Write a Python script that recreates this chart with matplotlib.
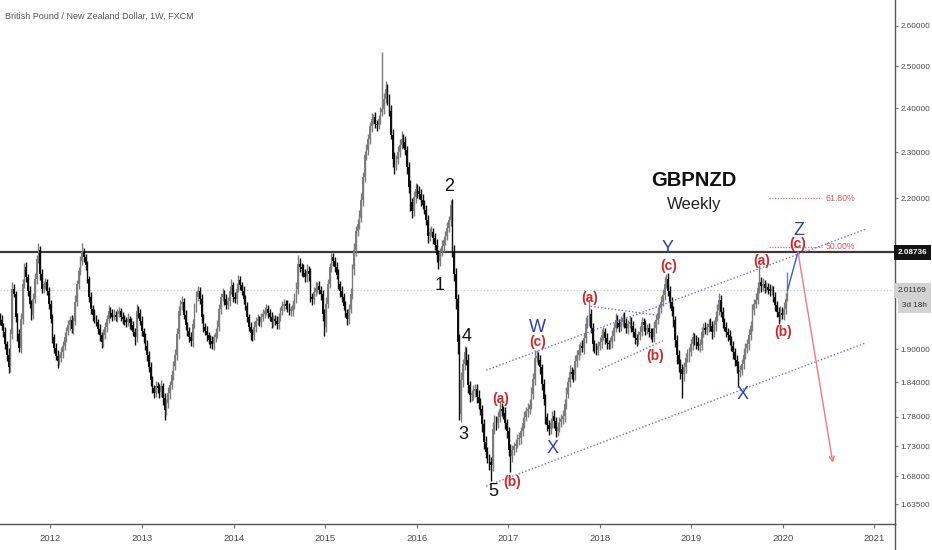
import numpy as np
import pandas as pd
import matplotlib
matplotlib.use('Agg')
import matplotlib.pyplot as plt
import matplotlib.dates as mdates
from matplotlib import font_manager
from matplotlib.lines import Line2D
from matplotlib.ticker import NullLocator, FormatStrFormatter
from matplotlib.transforms import blended_transform_factory

names = {f.name for f in font_manager.fontManager.ttflist}
if 'Liberation Sans Narrow' in names:
    NARROW = 'Liberation Sans Narrow'
elif 'Liberation Sans' in names:
    NARROW = 'Liberation Sans'
else:
    NARROW = 'DejaVu Sans'
plt.rcParams['font.family'] = [NARROW, 'DejaVu Sans']

# ---------------- data ----------------
title = 'British Pound / New Zealand Dollar, 1W, FXCM'
first_week = '2011-06-13'
first_open = 1.960
closes = [
    1.955, 1.943, 1.932, 1.909, 1.890, 1.867, 1.928, 2.015, 2.005, 1.961,
    1.928, 1.903, 1.957, 2.024, 2.057, 2.038, 2.011, 1.986, 1.965, 1.996,
    2.034, 2.073, 2.092, 2.044, 2.015, 2.024, 2.028, 2.011, 1.986, 1.957,
    1.922, 1.903, 1.888, 1.878, 1.885, 1.895, 1.907, 1.922, 1.934, 1.945,
    1.955, 1.938, 1.953, 1.990, 2.024, 2.050, 2.069, 2.088, 2.077, 2.061,
    2.034, 1.999, 1.976, 1.965, 1.957, 1.951, 1.938, 1.926, 1.913, 1.926,
    1.942, 1.957, 1.972, 1.969, 1.961, 1.965, 1.961, 1.967, 1.972, 1.961,
    1.957, 1.953, 1.951, 1.957, 1.949, 1.945, 1.932, 1.922, 1.972, 1.969,
    1.953, 1.934, 1.922, 1.907, 1.890, 1.867, 1.844, 1.830, 1.821, 1.833,
    1.830, 1.823, 1.833, 1.812, 1.791, 1.803, 1.821, 1.835, 1.853, 1.870,
    1.890, 1.928, 1.972, 1.986, 1.990, 1.965, 1.945, 1.934, 1.922, 1.915,
    1.947, 1.980, 1.999, 2.011, 1.995, 1.961, 1.942, 1.934, 1.926, 1.918,
    1.915, 1.909, 1.922, 1.930, 1.942, 1.976, 1.999, 2.005, 1.995, 1.984,
    1.991, 2.011, 2.022, 1.999, 1.995, 2.015, 2.032, 2.022, 2.011, 1.995,
    1.982, 1.961, 1.942, 1.930, 1.926, 1.942, 1.953, 1.957, 1.951, 1.961,
    1.967, 1.972, 1.976, 1.969, 1.961, 1.951, 1.957, 1.953, 1.947, 1.961,
    1.972, 1.982, 1.986, 1.982, 1.980, 1.972, 1.972, 1.984, 1.995, 2.015,
    2.063, 2.057, 2.053, 2.046, 2.038, 2.050, 2.044, 1.999, 1.995, 2.009,
    2.017, 2.020, 2.013, 2.005, 1.967, 1.942, 1.986, 2.024, 2.057, 2.077,
    2.069, 2.057, 2.042, 2.024, 2.011, 1.999, 1.982, 1.969, 1.957, 1.976,
    2.005, 2.053, 2.092, 2.130, 2.146, 2.158, 2.196, 2.245, 2.294, 2.305,
    2.329, 2.359, 2.376, 2.380, 2.364, 2.362, 2.376, 2.392, 2.399, 2.423,
    2.446, 2.423, 2.394, 2.340, 2.284, 2.273, 2.284, 2.301, 2.317, 2.329,
    2.322, 2.305, 2.267, 2.224, 2.191, 2.172, 2.202, 2.220, 2.215, 2.209,
    2.196, 2.186, 2.175, 2.154, 2.120, 2.129, 2.129, 2.116, 2.102, 2.082,
    2.069, 2.088, 2.100, 2.112, 2.120, 2.137, 2.154, 2.186, 2.088, 2.044,
    1.995, 1.913, 1.784, 1.844, 1.873, 1.895, 1.881, 1.835, 1.818, 1.818,
    1.825, 1.829, 1.815, 1.803, 1.793, 1.767, 1.737, 1.720, 1.710, 1.703,
    1.698, 1.759, 1.773, 1.769, 1.780, 1.794, 1.790, 1.787, 1.769, 1.755,
    1.723, 1.713, 1.723, 1.730, 1.734, 1.741, 1.744, 1.755, 1.769, 1.780,
    1.789, 1.794, 1.801, 1.820, 1.846, 1.885, 1.888, 1.881, 1.867, 1.837,
    1.811, 1.779, 1.765, 1.758, 1.769, 1.781, 1.772, 1.755, 1.762, 1.771,
    1.776, 1.781, 1.802, 1.820, 1.841, 1.859, 1.855, 1.853, 1.878, 1.890,
    1.899, 1.906, 1.903, 1.921, 1.947, 1.953, 1.967, 1.939, 1.909, 1.903,
    1.899, 1.906, 1.913, 1.926, 1.932, 1.921, 1.911, 1.909, 1.913, 1.924,
    1.940, 1.955, 1.949, 1.941, 1.951, 1.959, 1.949, 1.940, 1.947, 1.951,
    1.943, 1.932, 1.921, 1.917, 1.926, 1.932, 1.951, 1.945, 1.936, 1.940,
    1.932, 1.930, 1.922, 1.940, 1.955, 1.968, 1.978, 1.990, 2.003, 2.024,
    2.034, 2.011, 1.990, 1.972, 1.955, 1.917, 1.890, 1.873, 1.864, 1.855,
    1.867, 1.885, 1.888, 1.895, 1.909, 1.922, 1.917, 1.913, 1.906, 1.908,
    1.932, 1.940, 1.936, 1.942, 1.947, 1.943, 1.932, 1.945, 1.961, 1.974,
    1.993, 1.970, 1.951, 1.942, 1.932, 1.926, 1.917, 1.907, 1.895, 1.881,
    1.869, 1.859, 1.862, 1.874, 1.890, 1.903, 1.909, 1.926, 1.943, 1.974,
    1.986, 1.993, 2.017, 2.028, 2.020, 2.024, 2.017, 2.019, 2.013, 2.011,
    2.013, 1.999, 1.984, 1.970, 1.961, 1.969, 1.965, 1.975, 1.995, 2.012,
]
upper_wick_milli = [
    8, 10, 6, 9, 7, 12, 10, 14, 9, 6,
    7, 9, 12, 10, 8, 11, 6, 9, 7, 10,
    12, 9, 14, 8, 10, 7, 9, 6, 8, 7,
    9, 6, 8, 10, 7, 9, 8, 11, 7, 9,
    8, 10, 7, 12, 9, 8, 10, 18, 9, 7,
    8, 6, 9, 7, 10, 8, 6, 9, 7, 11,
    9, 7, 12, 8, 6, 10, 7, 9, 8, 6,
    10, 7, 8, 12, 6, 9, 7, 8, 14, 9,
    7, 9, 6, 8, 10, 7, 9, 8, 6, 10,
    8, 7, 12, 6, 9, 8, 10, 7, 9, 8,
    10, 12, 9, 8, 11, 7, 9, 6, 8, 10,
    9, 8, 12, 10, 7, 9, 6, 8, 10, 7,
    8, 9, 7, 10, 12, 9, 8, 11, 7, 9,
    8, 10, 12, 7, 9, 11, 10, 8, 7, 9,
    7, 8, 6, 9, 8, 10, 7, 9, 6, 8,
    9, 7, 10, 8, 6, 9, 7, 8, 10, 7,
    8, 10, 9, 7, 12, 8, 9, 10, 11, 14,
    20, 12, 9, 10, 8, 14, 9, 12, 8, 10,
    12, 9, 10, 8, 7, 9, 12, 11, 8, 10,
    9, 8, 10, 12, 7, 9, 8, 10, 7, 9,
    12, 10, 14, 12, 10, 16, 14, 12, 10, 14,
    12, 10, 14, 8, 12, 10, 9, 11, 135, 14,
    19, 12, 10, 14, 12, 16, 10, 14, 12, 20,
    12, 14, 10, 12, 16, 10, 14, 12, 10, 12,
    10, 12, 9, 11, 10, 8, 12, 9, 10, 12,
    10, 8, 12, 9, 10, 12, 9, 10, 12, 14,
    12, 10, 16, 14, 10, 12, 9, 10, 8, 9,
    10, 8, 9, 11, 10, 8, 9, 10, 8, 7,
    9, 12, 10, 8, 9, 14, 10, 8, 9, 7,
    8, 10, 9, 7, 8, 10, 9, 8, 10, 9,
    8, 9, 10, 12, 11, 14, 10, 8, 9, 7,
    9, 8, 7, 10, 8, 9, 10, 7, 9, 8,
    9, 10, 8, 11, 9, 12, 8, 10, 12, 9,
    10, 8, 12, 9, 14, 12, 27, 8, 10, 9,
    8, 10, 9, 12, 10, 8, 9, 7, 10, 12,
    10, 14, 9, 8, 12, 10, 11, 9, 8, 12,
    9, 10, 8, 7, 9, 12, 10, 8, 9, 7,
    9, 8, 10, 12, 9, 11, 8, 10, 12, 14,
    10, 12, 9, 8, 10, 7, 9, 8, 10, 9,
    10, 8, 12, 9, 11, 10, 8, 9, 10, 12,
    10, 9, 11, 8, 10, 12, 9, 10, 11, 12,
    14, 9, 10, 8, 9, 7, 10, 8, 9, 7,
    8, 9, 10, 8, 12, 9, 10, 11, 9, 12,
    10, 14, 12, 33, 10, 12, 9, 10, 8, 11,
    9, 8, 10, 7, 9, 12, 10, 14, 12, 35,
]
lower_wick_milli = [
    9, 7, 10, 8, 12, 10, 8, 9, 7, 10,
    12, 8, 9, 10, 7, 9, 11, 8, 10, 9,
    8, 10, 7, 12, 9, 8, 10, 9, 11, 8,
    10, 9, 8, 12, 7, 9, 10, 8, 9, 7,
    9, 8, 10, 7, 9, 10, 8, 7, 9, 10,
    8, 10, 9, 12, 8, 7, 9, 10, 11, 8,
    7, 9, 8, 10, 9, 7, 8, 10, 7, 9,
    10, 8, 9, 7, 11, 9, 8, 14, 9, 10,
    8, 9, 10, 8, 12, 9, 10, 8, 9, 7,
    9, 10, 8, 11, 17, 9, 8, 10, 7, 9,
    8, 10, 9, 7, 12, 8, 9, 10, 8, 9,
    10, 8, 9, 7, 10, 12, 9, 8, 10, 9,
    12, 9, 10, 8, 9, 7, 10, 8, 11, 9,
    8, 9, 7, 10, 8, 9, 7, 10, 8, 9,
    9, 10, 8, 12, 10, 8, 9, 7, 8, 10,
    8, 9, 7, 10, 8, 12, 9, 8, 10, 9,
    9, 8, 10, 7, 9, 8, 10, 9, 8, 7,
    10, 9, 12, 8, 10, 9, 14, 10, 12, 9,
    9, 10, 8, 12, 14, 18, 10, 9, 8, 10,
    9, 10, 8, 9, 12, 10, 9, 8, 12, 10,
    8, 9, 10, 12, 9, 10, 8, 12, 10, 12,
    12, 10, 14, 12, 9, 14, 10, 12, 9, 12,
    10, 14, 12, 10, 16, 20, 12, 10, 12, 9,
    12, 10, 14, 12, 18, 14, 10, 12, 14, 10,
    12, 10, 9, 11, 14, 10, 9, 12, 10, 14,
    16, 10, 9, 12, 10, 8, 9, 12, 10, 14,
    20, 22, 10, 14, 12, 10, 9, 14, 12, 10,
    9, 10, 12, 9, 10, 14, 12, 10, 9, 12,
    26, 10, 9, 12, 8, 10, 9, 11, 10, 12,
    10, 26, 9, 8, 10, 7, 9, 10, 8, 9,
    8, 9, 10, 8, 9, 10, 8, 9, 12, 10,
    10, 12, 9, 10, 8, 9, 11, 10, 8, 9,
    9, 8, 10, 9, 8, 10, 9, 12, 8, 10,
    9, 10, 8, 11, 9, 8, 10, 9, 12, 10,
    10, 9, 8, 10, 9, 12, 10, 9, 8, 10,
    9, 8, 10, 9, 7, 8, 10, 9, 12, 8,
    10, 9, 12, 10, 8, 9, 7, 10, 9, 8,
    9, 10, 8, 9, 10, 8, 9, 10, 8, 9,
    8, 10, 12, 9, 14, 12, 16, 14, 18, 42,
    12, 10, 9, 11, 8, 10, 9, 12, 8, 10,
    9, 10, 8, 10, 9, 8, 12, 9, 10, 8,
    9, 10, 12, 8, 9, 10, 9, 10, 12, 11,
    12, 28, 10, 9, 10, 8, 9, 10, 8, 9,
    10, 9, 8, 10, 12, 9, 10, 8, 9, 10,
    9, 10, 12, 10, 14, 9, 8, 10, 9, 3,
]
year_ticks = [2012, 2013, 2014, 2015, 2016, 2017, 2018, 2019, 2020, 2021]
price_ticks = [1.635, 1.68, 1.73, 1.78, 1.84, 1.90, 2.2, 2.3, 2.4, 2.5, 2.6]
resistance = 2.08736
last_price = 2.01169
countdown = '3d 18h'
fib_labels = ['61.80%', '50.00%']
fib_prices = [2.200, 2.099]
# ---------------------------------------

n = min(len(closes), len(upper_wick_milli), len(lower_wick_milli))
c = np.array(closes[:n])
o = np.r_[first_open, c[:-1]]
hi = np.maximum(o, c) + np.array(upper_wick_milli[:n]) / 1000.0
lo = np.minimum(o, c) - np.array(lower_wick_milli[:n]) / 1000.0
dates = pd.date_range(first_week, periods=n, freq='7D')
x = mdates.date2num(dates)
col = np.where(c >= o, '#7c7c7c', '#0f0f0f')


def d(s):
    return mdates.date2num(pd.Timestamp(s))


fig = plt.figure(figsize=(9.32, 5.5), dpi=100)
fig.patch.set_facecolor('white')
ax = fig.add_axes([0, 26 / 550, 895 / 932, 524 / 550])
ax.set_yscale('log')
ax.set_xlim(d('2011-06-14'), d('2021-03-24'))
ax.set_ylim(1.604, 2.666)

# horizontal levels
ax.axhline(resistance, color='#3a3a3a', lw=1.6, zorder=2)
ax.axhline(last_price, color='#c4c4c4', lw=0.8, ls=(0, (1, 2)), zorder=1)

# candles
ax.vlines(x, lo, hi, colors=col, lw=1.0, zorder=3)
ax.bar(x, np.maximum(np.abs(c - o), 0.003), bottom=np.minimum(o, c), width=5.8,
       color=col, linewidth=0, zorder=3)

# channels (blue dotted)
blue_dot = dict(color='#6d6de0', lw=1.0, ls=(0, (1, 1.5)), zorder=4)
ax.plot([d('2016-10-05'), d('2020-11-28')], [1.862, 2.135], **blue_dot)
ax.plot([d('2016-10-05'), d('2020-11-28')], [1.664, 1.912], **blue_dot)
ax.plot([d('2017-11-26'), d('2018-08-20')], [1.981, 1.964], **blue_dot)
ax.plot([d('2017-12-28'), d('2018-09-10')], [1.862, 1.916], **blue_dot)

# fib levels
for lab, p in zip(fib_labels, fib_prices):
    ax.plot([d('2019-11-06'), d('2020-06-07')], [p, p], color='#e86a6a', lw=0.9,
            ls=(0, (1, 1.2)), zorder=4)
    ax.text(d('2020-06-20'), p, lab, color='#e05555', fontsize=6.3, va='center', ha='left',
            zorder=5)

# projection
ax.plot([x[-1], d('2020-03-02')], [c[-1], 2.088], color='#3558d8', lw=1.0, zorder=5)
ax.annotate('', xy=(d('2020-07-19'), 1.702), xytext=(d('2020-03-02'), 2.088),
            arrowprops=dict(arrowstyle='->', color='#f07a7a', lw=1.0, mutation_scale=9,
                            shrinkA=0, shrinkB=0), zorder=5)

# headline
ax.text(d('2019-01-11'), 2.239, 'GBPNZD', fontsize=14.5, fontweight='bold', color='#111',
        ha='center', va='center', zorder=6)
ax.text(d('2019-01-11'), 2.186, 'Weekly', fontsize=12, color='#222',
        ha='center', va='center', zorder=6)

# wave labels
black_lbl = [('1', '2016-04-04', 2.022), ('2', '2016-05-10', 2.224), ('3', '2016-07-04', 1.749),
             ('4', '2016-07-20', 1.923), ('5', '2016-11-01', 1.655)]
for t, dd, p in black_lbl:
    ax.text(d(dd), p, t, fontsize=13, color='#111', ha='center', va='center', zorder=6)
blue_lbl = [('W', '2017-04-29', 1.940), ('X', '2017-06-25', 1.725), ('Y', '2018-09-30', 2.096),
            ('X', '2019-07-25', 1.818), ('Z', '2020-03-06', 2.133)]
for t, dd, p in blue_lbl:
    ax.text(d(dd), p, t, fontsize=13, color='#2c3fb0', ha='center', va='center', zorder=6)
red_lbl = [('(a)', '2016-12-03', 1.811), ('(b)', '2017-01-17', 1.671), ('(c)', '2017-04-29', 1.914),
           ('(a)', '2017-11-23', 1.997), ('(b)', '2018-08-09', 1.888), ('(c)', '2018-10-04', 2.059),
           ('(a)', '2019-10-10', 2.069), ('(b)', '2020-01-01', 1.932), ('(c)', '2020-03-02', 2.104)]
for t, dd, p in red_lbl:
    ax.text(d(dd), p, t, fontsize=10, color='#cc2a2a', ha='center', va='center', zorder=6,
            fontweight='bold')

# axes styling
for s in ['top', 'left']:
    ax.spines[s].set_visible(False)
ax.spines['bottom'].set_color('#555555')
ax.spines['right'].set_color('#555555')
ax.spines['bottom'].set_linewidth(1.0)
ax.spines['right'].set_linewidth(1.0)
fig.add_artist(Line2D([895 / 932, 895 / 932], [0, 26 / 550], transform=fig.transFigure,
                      color='#555555', lw=1.0))

ax.yaxis.tick_right()
ax.yaxis.set_minor_locator(NullLocator())
ax.set_yticks(price_ticks)
ax.yaxis.set_major_formatter(FormatStrFormatter('%.5f'))
ax.yaxis.set_minor_locator(NullLocator())
ax.tick_params(axis='y', which='major', length=2.5, width=0.8, color='#777777',
               labelcolor='#4a4a4a', labelsize=5.9, pad=1.5)
ax.set_xticks([d(f'{yr}-01-01') for yr in year_ticks])
ax.set_xticklabels([str(yr) for yr in year_ticks])
ax.tick_params(axis='x', length=3, width=0.8, color='#777777', labelcolor='#4a4a4a',
               labelsize=6.8, pad=4)

# price boxes on the right scale
tr = blended_transform_factory(ax.transAxes, ax.transData)
ax.text(1.003, resistance, f'{resistance:.5f}', transform=tr, fontsize=5.9, color='white',
        fontweight='bold', va='center', ha='left', clip_on=False, zorder=10,
        bbox=dict(boxstyle='square,pad=0.5', fc='#141414', ec='none'))
ax.text(1.003, last_price, f'{last_price:.5f}', transform=tr, fontsize=5.9, color='#333333',
        va='center', ha='left', clip_on=False, zorder=10,
        bbox=dict(boxstyle='square,pad=0.5', fc='#d2d2d2', ec='none'))
ax.annotate(countdown, xy=(1.003, last_price), xycoords=tr, xytext=(3, -11),
            textcoords='offset points', fontsize=5.9, color='#333333', va='center', ha='left',
            annotation_clip=False, zorder=10,
            bbox=dict(boxstyle='square,pad=0.5', fc='#d2d2d2', ec='none'))

fig.text(5 / 932, 1 - 16 / 550, title, fontsize=6.5, color='#555555', va='center', ha='left')

fig.savefig('out.png', dpi=100, facecolor='white')
